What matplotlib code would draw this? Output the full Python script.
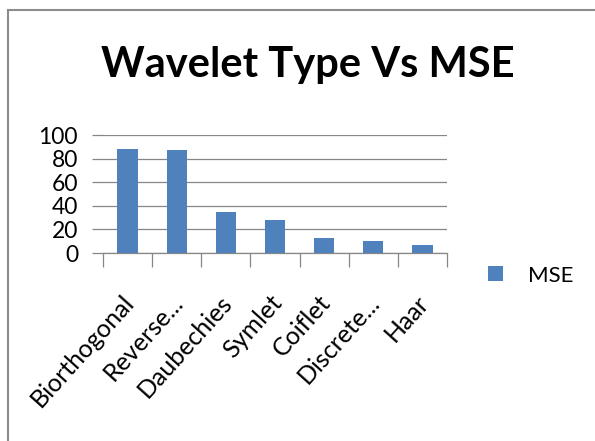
import matplotlib.pyplot as plt
from matplotlib.lines import Line2D
import matplotlib.transforms as mtransforms
import numpy as np

wavelets = ["Biorthogonal", "Reverse...", "Daubechies", "Symlet", "Coiflet", "Discrete...", "Haar"]
mse = [88.5, 87.6, 34.5, 28.1, 12.6, 10.4, 7.0]
yticks = [0, 20, 40, 60, 80, 100]

bar_color = "#4F81BD"
grid_color = "#878787"

plt.rcParams["font.family"] = ["Lato", "DejaVu Sans"]

fig = plt.figure(figsize=(5.95, 4.41), dpi=100)
ax = fig.add_axes([103 / 595, 1 - 253 / 441, 344 / 595, 118 / 441])

x = np.arange(len(wavelets))
ax.bar(x, mse, width=0.41, color=bar_color, zorder=3, label="MSE")

ax.set_xlim(-0.5, len(wavelets) - 0.5)
ax.set_ylim(0, 100)
ax.set_yticks(yticks)
ax.set_yticklabels([str(v) for v in yticks], fontsize=16.5)
ax.yaxis.grid(True, color=grid_color, linewidth=0.9, zorder=0)
ax.tick_params(axis="y", length=8, color=grid_color, width=0.9, pad=10)

# x ticks at category boundaries, labels at centres
ax.set_xticks(np.arange(len(wavelets) + 1) - 0.5)
ax.set_xticklabels([])
ax.set_xticks(x, minor=True)
ax.set_xticklabels(wavelets, minor=True, rotation=48, ha="right",
                   rotation_mode="anchor", fontsize=18)
ax.tick_params(axis="x", which="major", length=10, color=grid_color, width=0.9)
ax.tick_params(axis="x", which="minor", length=0, pad=27)

# nudge category labels a little to the left
shift = mtransforms.ScaledTranslation(-6 / 100, 0, fig.dpi_scale_trans)
for lbl in ax.get_xticklabels(minor=True):
    lbl.set_transform(lbl.get_transform() + shift)

for s in ["top", "right", "left"]:
    ax.spines[s].set_visible(False)
ax.spines["bottom"].set_color(grid_color)
ax.spines["bottom"].set_linewidth(0.9)

fig.text(308 / 595, 1 - 77 / 441, "Wavelet Type Vs MSE", ha="center", va="baseline",
         fontsize=30, fontweight="bold")

ax.legend(loc="center left", bbox_to_anchor=(488 / 595, 1 - 275.5 / 441),
          bbox_transform=fig.transFigure, frameon=False, fontsize=16,
          handlelength=0.68, handleheight=0.68, handletextpad=1.13,
          borderpad=0, borderaxespad=0)

# outer chart frame
fig.add_artist(Line2D([8 / 595, 8 / 595], [0, 1 - 10 / 441], color="#8c8c8c", lw=1.5))
fig.add_artist(Line2D([8 / 595, 1], [1 - 10 / 441, 1 - 10 / 441], color="#8c8c8c", lw=1.5))

fig.savefig("out.png", dpi=100)
